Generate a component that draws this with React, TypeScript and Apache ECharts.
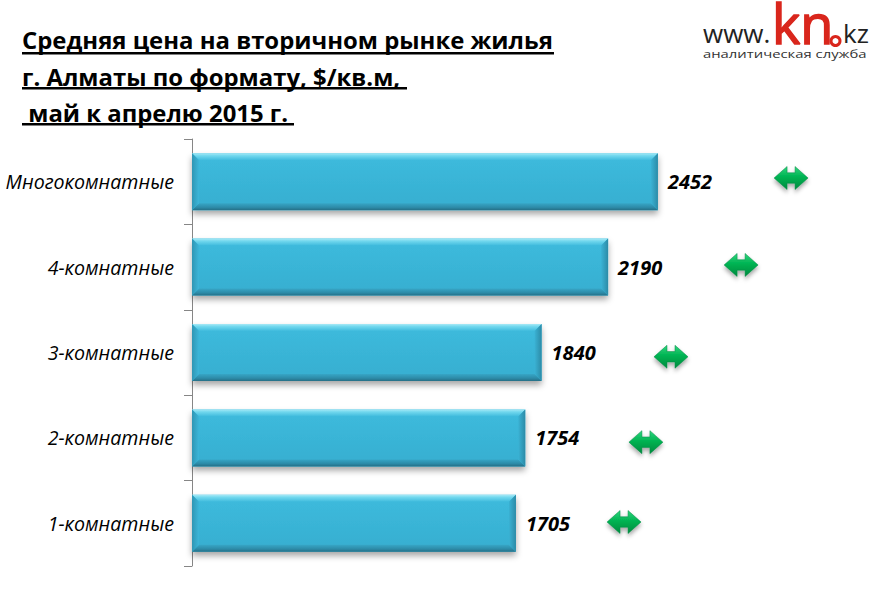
import React, { useEffect, useRef } from "react";
import * as echarts from "echarts";

const categories = ["Многокомнатные", "4-комнатные", "3-комнатные", "2-комнатные", "1-комнатные"];
const prices = [2452, 2190, 1840, 1754, 1705];
const arrowX = [3153, 2890, 2521, 2389, 2274];
const arrowRow = [0.457, 1.475, 2.55, 3.55, 4.485];
const titleLines = ["Средняя цена на вторичном рынке жилья", "г. Алматы по формату, $/кв.м,", " май к апрелю 2015 г."];

const FONT = "'Open Sans', 'Noto Sans', sans-serif";
const ARROW = "path://M0,11 L13,0 L13,6 L21,6 L21,0 L34,11 L21,22 L21,16 L13,16 L13,22 Z";

const lg = (stops: [number, string][], x2 = 0, y2 = 1) => ({
  type: "linear", x: 0, y: 0, x2, y2,
  colorStops: stops.map(([offset, color]) => ({ offset, color })),
});

function bevel(params: any, api: any) {
  const v = api.value(0);
  const row = api.value(1);
  const left = api.coord([0, row]);
  const right = api.coord([v, row]);
  const h = 57;
  const b = 7;
  const x0 = left[0];
  const x1 = right[0];
  const y0 = left[1] - h / 2;
  const y1 = y0 + h;
  const poly = (points: number[][], fill: any) => ({
    type: "polygon", shape: { points }, style: { fill }, silent: true,
  });
  return {
    type: "group",
    children: [
      poly([[x0, y0], [x1, y0], [x1 - b, y0 + b], [x0 + b, y0 + b]], lg([[0, "#a8e9f6"], [0.35, "#72d8ee"], [1, "#3fbbdd"]])),
      poly([[x0, y1], [x1, y1], [x1 - b, y1 - b], [x0 + b, y1 - b]], lg([[0, "#37a6c6"], [0.6, "#2d8ba8"], [1, "#256f86"]])),
      poly([[x0, y0], [x0 + b, y0 + b], [x0 + b, y1 - b], [x0, y1]], lg([[0, "#2f96b4"], [1, "#3cb6d9"]], 1, 0)),
      poly([[x1, y0], [x1 - b, y0 + b], [x1 - b, y1 - b], [x1, y1]], lg([[0, "#3ab2d4"], [1, "#2c8ba7"]], 1, 0)),
    ],
  };
}

export default function App() {
  const ref = useRef<HTMLDivElement>(null);
  useEffect(() => {
    const chart = echarts.init(ref.current!, undefined, { renderer: "svg" });
    const titleX = 22;
    const titleY = [39, 76, 112];
    const ruleY = [52, 87, 123];
    const ruleW = [532, 385, 272];
    chart.setOption({
      animation: false,
      backgroundColor: "#ffffff",
      grid: { left: 192, top: 139, width: 665, height: 427 },
      xAxis: { type: "value", min: 0, max: 3500, show: false },
      yAxis: [
        {
          type: "category",
          data: categories,
          inverse: true,
          axisLine: { lineStyle: { color: "#868686", width: 1 } },
          axisTick: { show: true, length: 8, lineStyle: { color: "#868686" } },
          axisLabel: { fontFamily: FONT, fontStyle: "italic", fontSize: 19.6, color: "#000", margin: 18 },
        },
        { type: "value", min: 0, max: 5, inverse: true, show: false },
      ],
      series: [
        {
          type: "bar",
          data: prices,
          barWidth: 57,
          itemStyle: {
            color: lg([[0, "#3dbbdd"], [1, "#36aed0"]]),
            shadowColor: "rgba(0,0,0,0.35)",
            shadowBlur: 6,
            shadowOffsetY: 4,
          },
          label: {
            show: true, position: "right", distance: 10,
            fontFamily: FONT, fontStyle: "italic", fontWeight: "bold", fontSize: 20, color: "#000",
          },
          z: 2,
        },
        {
          type: "custom",
          data: prices.map((p, i) => [p, i]),
          renderItem: bevel,
          encode: { x: 0, y: 1 },
          silent: true,
          z: 3,
        },
        {
          type: "scatter",
          yAxisIndex: 1,
          data: arrowX.map((x, i) => [x, arrowRow[i]]),
          symbol: ARROW,
          symbolSize: [34, 23],
          itemStyle: {
            opacity: 1,
            color: lg([[0, "#2fd67f"], [0.45, "#00b352"], [1, "#008a3e"]]),
            borderColor: "#078a45",
            borderWidth: 0.5,
            shadowColor: "rgba(0,0,0,0.35)",
            shadowBlur: 4,
            shadowOffsetY: 3,
          },
          z: 4,
        },
      ],
      graphic: [
        ...titleLines.map((text, i) => ({
          type: "text", x: titleX, y: titleY[i],
          style: { text, fontFamily: FONT, fontWeight: "bold", fontSize: 23.9, fill: "#000", textVerticalAlign: "middle" },
        })),
        ...ruleY.map((y, i) => ({
          type: "rect", shape: { x: titleX, y, width: ruleW[i], height: 2.5 }, style: { fill: "#000" },
        })),
        { type: "text", x: 703, y: 33, style: { text: "www.", fontFamily: FONT, fontSize: 26, fill: "#222", textVerticalAlign: "middle" } },
        { type: "text", x: 772, y: 23, style: { text: "kn", fontFamily: FONT, fontSize: 54, fill: "#d9261c", stroke: "#d9261c", lineWidth: 1.5, textVerticalAlign: "middle" } },
        { type: "text", x: 843, y: 33, style: { text: "kz", fontFamily: FONT, fontSize: 26, fill: "#222", textVerticalAlign: "middle" } },
        { type: "circle", shape: { cx: 835.5, cy: 41, r: 4.5 }, style: { fill: "#fff", stroke: "#d9261c", lineWidth: 3 } },
        { type: "text", x: 703, y: 54, scaleX: 1.29, style: { text: "аналитическая служба", fontFamily: FONT, fontSize: 11.5, fill: "#333", textVerticalAlign: "middle" } },
      ],
    });
    return () => chart.dispose();
  }, []);
  return <div ref={ref} style={{ position: "fixed", left: 0, top: 0, width: 887, height: 591 }} />;
}
